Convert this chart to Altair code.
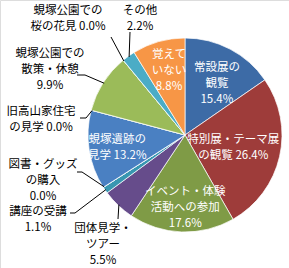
import math
import altair as alt
import pandas as pd

# ---- data ----
categories = ["常設展の観覧", "特別展・テーマ展の観覧", "イベント・体験活動への参加",
              "団体見学・ツアー", "講座の受講", "図書・グッズの購入", "蜆塚遺跡の見学",
              "旧高山家住宅の見学", "蜆塚公園での散策・休憩", "蜆塚公園での桜の花見",
              "その他", "覚えていない"]
values = [15.4, 26.4, 17.6, 5.5, 1.1, 0.0, 13.2, 0.0, 9.9, 0.0, 2.2, 8.8]

# ---- styles / layout ----
colors = ["#3D6BA6", "#9E3C3A", "#7F9B46", "#664C8B", "#3897B1", "#E8822E",
          "#4A80C2", "#B04A48", "#9BBB59", "#8064A2", "#4BACC6", "#F79646"]
label_lines = [["常設展の", "観覧"], ["特別展・テーマ展", "の観覧"], ["イベント・体験", "活動への参加"],
               ["団体見学・", "ツアー"], ["講座の受講"], ["図書・グッズ", "の購入"],
               ["蜆塚遺跡の", "見学"], ["旧高山家住宅", "の見学"], ["蜆塚公園での", "散策・休憩"],
               ["蜆塚公園での", "桜の花見"], ["その他"], ["覚えて", "いない"]]
pct_inline = [False, True, False, False, False, False, True, True, False, True, False, False]
CX, CY, R = 185, 135, 97
LH = 16
# inside labels: (radius, angle nudge in degrees)
inside = {0: (60, 4.4), 1: (50, 2.0), 2: (73, -2.2), 6: (69, -2.2), 11: (66, 1.8)}
# outside labels: block centre offset from pie centre, leader points before the slice edge
outside = {
    3: ((-82, 110), [(-67, 84)]),
    4: ((-147, 85), [(-115, 78), (-110, 78)]),
    5: ((-142, 46), [(-108, 37), (-103, 37)]),
    7: ((-144, -15), [(-105, -17), (-99, -17)]),
    8: ((-135, -65), [(-108, -60), (-100, -60)]),
    9: ((-117, -116), [(-74, -98)]),
    10: ((-45, -116), [(-55, -103)]),
}

total = sum(values)
mids = []
cum = 0.0
for v in values:
    mids.append((cum + v / 2) / total * 360)
    cum += v

def polar(r, deg):
    a = math.radians(deg)
    return CX + r * math.sin(a), CY - r * math.cos(a)

arc_df = pd.DataFrame({"category": categories, "value": values, "idx": list(range(len(values)))})

rows = []
lines = []
for i, (name_lines, v) in enumerate(zip(label_lines, values)):
    pct = f"{v:.1f}%"
    ls = list(name_lines)
    if pct_inline[i]:
        ls[-1] = ls[-1] + " " + pct
    else:
        ls.append(pct)
    txt = "\n".join(ls)
    shift = (len(ls) - 1) * LH / 2
    if i in inside:
        r, nud = inside[i]
        x, y = polar(r, mids[i] + nud)
        rows.append({"lx": x, "ly": y - shift, "text": txt, "tc": "#FFFFFF"})
    else:
        (dx, dy), pts = outside[i]
        rows.append({"lx": CX + dx, "ly": CY + dy - shift, "text": txt, "tc": "#000000"})
        seq = 0
        for (px, py) in pts:
            lines.append({"lid": i, "seq": seq, "x": CX + px, "y": CY + py})
            seq += 1
        ex, ey = polar(R - 1, mids[i])
        lines.append({"lid": i, "seq": seq, "x": ex, "y": ey})

text_df = pd.DataFrame(rows)
line_df = pd.DataFrame(lines)

pie = alt.Chart(arc_df).mark_arc(outerRadius=R, stroke="#FFFFFF", strokeWidth=0.7).encode(
    theta=alt.Theta("value:Q", stack=True),
    order=alt.Order("idx:Q"),
    color=alt.Color("category:N", scale=alt.Scale(domain=categories, range=colors), legend=None),
    x=alt.value(CX),
    y=alt.value(CY),
)

leaders = alt.Chart(line_df).mark_line(color="#000000", strokeWidth=1).encode(
    x=alt.X("x:Q", scale=None, axis=None),
    y=alt.Y("y:Q", scale=None, axis=None),
    detail="lid:N",
    order="seq:Q",
)

labels = alt.Chart(text_df).mark_text(
    font="Noto Sans CJK JP", fontSize=11.5, lineBreak="\n", lineHeight=LH,
    align="center", baseline="middle",
).encode(
    x=alt.X("lx:Q", scale=None, axis=None),
    y=alt.Y("ly:Q", scale=None, axis=None),
    text="text:N",
    color=alt.Color("tc:N", scale=None),
)

chart = alt.layer(pie, leaders, labels).properties(
    width=289, height=268, autosize="none", padding=0
).configure_view(stroke=None).configure(background="#FFFFFF")

chart.save("out.html", embed_options={"renderer": "svg", "actions": False})
